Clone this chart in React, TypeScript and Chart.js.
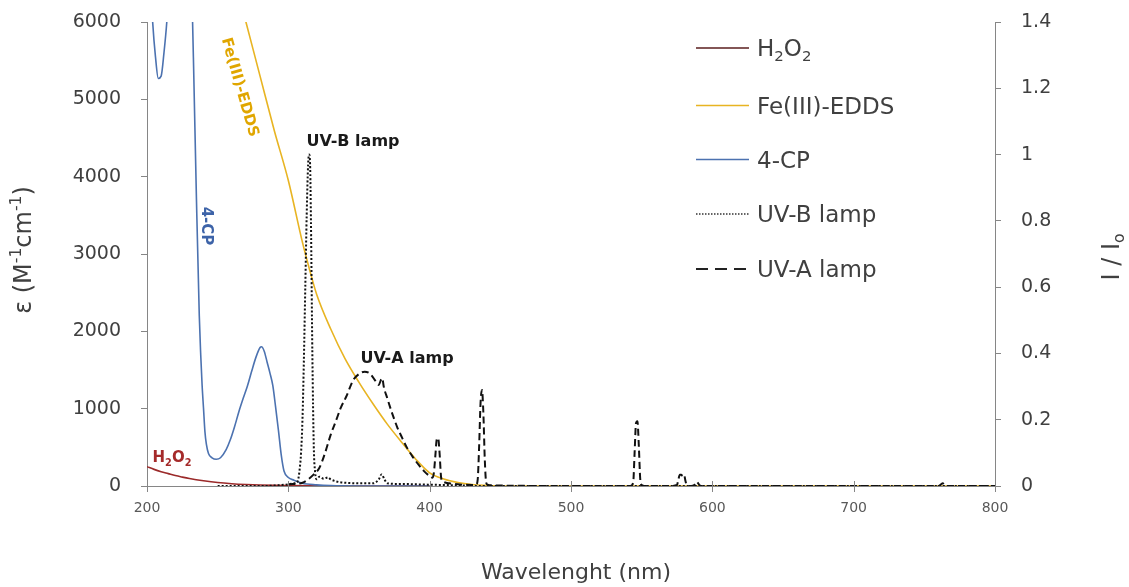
import React, { useEffect, useRef } from 'react';
import { Chart, registerables } from 'chart.js';

Chart.register(...registerables);

const FONT = "'DejaVu Sans', sans-serif";

// ---------- DATA ----------
const xTicks = [200, 300, 400, 500, 600, 700, 800];

const wlH2O2 = [200, 205, 210, 215, 220, 225, 230, 240, 250, 260, 270, 280, 300, 320, 350, 400];
const epsH2O2 = [250, 215, 185, 160, 135, 115, 97, 68, 45, 30, 20, 13, 5, 2, 0, 0];

const wlFe = [260, 270, 280, 290, 300, 310, 315, 320, 330, 340, 350, 360, 370, 380, 390, 400, 410, 420, 430, 440, 450, 500, 600, 700, 800];
const epsFe = [6700, 6000, 5300, 4600, 3950, 3150, 2800, 2480, 2030, 1650, 1340, 1060, 800, 570, 350, 170, 90, 45, 20, 8, 0, 0, 0, 0, 0];

const wl4CP = [200, 202, 204, 206, 208, 210, 212, 214, 216, 220, 225, 230, 232, 233, 235, 237, 238, 239, 240, 241, 242, 243.5, 246, 249, 252, 256, 259, 262, 265, 268, 271, 274, 277, 280, 281, 283, 285, 287, 289, 291, 293, 295, 297, 300, 304, 310, 320, 330, 350, 400];
const eps4CP = [7500, 6700, 6000, 5550, 5270, 5300, 5600, 6000, 6600, 8000, 9000, 7500, 6200, 5400, 3700, 2200, 1700, 1300, 1000, 700, 540, 420, 365, 345, 365, 470, 600, 770, 960, 1130, 1290, 1480, 1660, 1790, 1800, 1740, 1600, 1460, 1300, 1020, 720, 400, 190, 110, 75, 35, 15, 5, 0, 0];

const wlUVB = [250, 280, 300, 304, 306, 307, 308, 309, 310, 311, 312, 313, 314, 314.7, 315.4, 316, 317, 318, 319, 320, 322, 325, 328, 330, 333, 336, 340, 350, 360, 364, 366, 368, 370, 380, 400, 420, 440, 500, 600, 700, 800];
const iUVB = [0, 0, 0.005, 0.008, 0.01, 0.02, 0.05, 0.1, 0.2, 0.38, 0.6, 0.82, 0.97, 1.0, 0.97, 0.8, 0.4, 0.12, 0.04, 0.02, 0.028, 0.022, 0.026, 0.02, 0.015, 0.012, 0.01, 0.008, 0.008, 0.02, 0.035, 0.02, 0.008, 0.006, 0.004, 0.002, 0, 0, 0, 0, 0];

const wlUVA = [300, 310, 314, 318, 322, 326, 330, 334, 337, 341, 346, 350, 354, 358, 362, 364, 365.5, 366.5, 367.5, 370, 373, 377, 380, 384, 388, 392, 396, 400, 402, 403, 404, 405, 406, 407, 408, 409, 410, 414, 420, 430, 433, 434, 435, 436, 437, 438, 439, 440, 441, 445, 500, 542, 544, 545, 546, 547, 548, 549, 550, 552, 570, 575, 576, 577, 578, 579, 580, 581, 582, 585, 587, 588, 589, 590, 591, 592, 595, 700, 760, 763, 765, 770, 800];
const iUVA = [0.005, 0.01, 0.02, 0.035, 0.055, 0.1, 0.155, 0.2, 0.235, 0.27, 0.32, 0.338, 0.345, 0.338, 0.315, 0.305, 0.32, 0.325, 0.3, 0.265, 0.225, 0.178, 0.15, 0.115, 0.088, 0.065, 0.045, 0.03, 0.025, 0.04, 0.09, 0.14, 0.145, 0.1, 0.03, 0.015, 0.012, 0.008, 0.005, 0.003, 0.005, 0.02, 0.12, 0.25, 0.29, 0.22, 0.08, 0.01, 0.004, 0.002, 0, 0, 0.01, 0.1, 0.19, 0.195, 0.12, 0.02, 0.003, 0, 0, 0.003, 0.02, 0.034, 0.034, 0.03, 0.034, 0.015, 0.002, 0, 0.002, 0.008, 0.013, 0.008, 0.002, 0, 0, 0, 0, 0.008, 0, 0, 0];

// ---------- STYLE ----------
const textColor = '#404040';
const axisColor = '#868686';
const cH2O2 = '#9b2a2a';
const cH2O2Legend = '#5a1e1e';
const cFe = '#e8b422';
const cFeText = '#e0a600';
const c4CP = '#4c72b0';
const c4CPText = '#3d63a8';
const cLamp = '#111111';

type Seg = { t: string; s?: 'sub' | 'sup' };

function richWidth(ctx: CanvasRenderingContext2D, segs: Seg[], size: number, weight: string) {
  let w = 0;
  for (const g of segs) {
    const fs = g.s ? size * 0.65 : size;
    ctx.font = `${weight} ${fs}px ${FONT}`;
    w += ctx.measureText(g.t).width;
  }
  return w;
}

function drawRich(
  ctx: CanvasRenderingContext2D,
  segs: Seg[],
  cx: number,
  cy: number,
  size: number,
  weight: string,
  color: string,
  align: 'left' | 'center',
  rot: number
) {
  ctx.save();
  ctx.translate(cx, cy);
  ctx.rotate(rot);
  ctx.fillStyle = color;
  ctx.textBaseline = 'alphabetic';
  ctx.textAlign = 'left';
  const w = richWidth(ctx, segs, size, weight);
  let x = align === 'center' ? -w / 2 : 0;
  const base = size * 0.36;
  for (const g of segs) {
    const fs = g.s ? size * 0.65 : size;
    ctx.font = `${weight} ${fs}px ${FONT}`;
    const dy = g.s === 'sub' ? size * 0.22 : g.s === 'sup' ? -size * 0.4 : 0;
    ctx.fillText(g.t, x, base + dy);
    x += ctx.measureText(g.t).width;
  }
  ctx.restore();
}

const h2o2Segs: Seg[] = [{ t: 'H' }, { t: '2', s: 'sub' }, { t: 'O' }, { t: '2', s: 'sub' }];

const legendItems = [
  { label: h2o2Segs, color: cH2O2Legend, dash: [] as number[], width: 1.5 },
  { label: [{ t: 'Fe(III)-EDDS' }] as Seg[], color: cFe, dash: [] as number[], width: 1.5 },
  { label: [{ t: '4-CP' }] as Seg[], color: c4CP, dash: [] as number[], width: 1.5 },
  { label: [{ t: 'UV-B lamp' }] as Seg[], color: '#333333', dash: [1.5, 1.5], width: 1.5 },
  { label: [{ t: 'UV-A lamp' }] as Seg[], color: '#222222', dash: [12, 7], width: 2 },
];

const overlayPlugin = {
  id: 'overlay',
  afterDraw(chart: any) {
    const ctx: CanvasRenderingContext2D = chart.ctx;
    const area = chart.chartArea;
    const xs = chart.scales.x;

    // crossing tick marks on x axis
    ctx.save();
    ctx.strokeStyle = axisColor;
    ctx.lineWidth = 1;
    for (const t of xs.ticks) {
      const px = Math.round(xs.getPixelForValue(t.value)) + 0.5;
      ctx.beginPath();
      ctx.moveTo(px, area.bottom - 5);
      ctx.lineTo(px, area.bottom + 6);
      ctx.stroke();
    }
    ctx.restore();

    // axis titles
    drawRich(ctx, [{ t: 'Wavelenght (nm)' }], 576, 571, 22, 'normal', textColor, 'center', 0);
    drawRich(
      ctx,
      [{ t: 'ε (M' }, { t: '-1', s: 'sup' }, { t: 'cm' }, { t: '-1', s: 'sup' }, { t: ')' }],
      22,
      250,
      24,
      'normal',
      textColor,
      'center',
      -Math.PI / 2
    );
    drawRich(ctx, [{ t: 'I / I' }, { t: 'o', s: 'sub' }], 1110, 257, 24, 'normal', textColor, 'center', -Math.PI / 2);

    // legend
    const rows = [48, 105.5, 159.5, 214, 269];
    legendItems.forEach((it, i) => {
      const y = rows[i];
      ctx.save();
      ctx.strokeStyle = it.color;
      ctx.lineWidth = it.width;
      ctx.setLineDash(it.dash);
      ctx.beginPath();
      ctx.moveTo(696, y);
      ctx.lineTo(749, y);
      ctx.stroke();
      ctx.restore();
      drawRich(ctx, it.label, 757, y, 23, 'normal', textColor, 'left', 0);
    });

    // annotations
    drawRich(ctx, [{ t: 'UV-B lamp' }], 353, 140, 16, 'bold', '#1a1a1a', 'center', 0);
    drawRich(ctx, [{ t: 'UV-A lamp' }], 407, 357, 16, 'bold', '#1a1a1a', 'center', 0);
    drawRich(ctx, [{ t: 'Fe(III)-EDDS' }], 241, 87, 15, 'bold', cFeText, 'center', (74 * Math.PI) / 180);
    drawRich(ctx, [{ t: '4-CP' }], 207, 226, 15, 'bold', c4CPText, 'center', Math.PI / 2);
    drawRich(ctx, h2o2Segs, 172, 457, 15, 'bold', '#a52a2a', 'center', 0);
  },
};

function pts(xs: number[], ys: number[]) {
  return xs.map((x, i) => ({ x, y: ys[i] }));
}

function noPadV(s: any, w: number) {
  s.width = w;
  s.paddingTop = 0;
  s.paddingBottom = 0;
}

export default function App() {
  const ref = useRef<HTMLCanvasElement | null>(null);

  useEffect(() => {
    if (!ref.current) return;
    const chart = new Chart(ref.current, {
      type: 'line',
      data: {
        datasets: [
          {
            label: 'UV-A lamp',
            data: pts(wlUVA, iUVA),
            yAxisID: 'y1',
            borderColor: cLamp,
            borderWidth: 2,
            borderDash: [7, 4],
            pointRadius: 0,
            cubicInterpolationMode: 'monotone',
            order: 1,
          },
          {
            label: 'UV-B lamp',
            data: pts(wlUVB, iUVB),
            yAxisID: 'y1',
            borderColor: cLamp,
            borderWidth: 2,
            borderDash: [2, 2],
            pointRadius: 0,
            cubicInterpolationMode: 'monotone',
            order: 2,
          },
          {
            label: '4-CP',
            data: pts(wl4CP, eps4CP),
            yAxisID: 'y',
            borderColor: c4CP,
            borderWidth: 1.6,
            pointRadius: 0,
            cubicInterpolationMode: 'monotone',
            order: 3,
          },
          {
            label: 'Fe(III)-EDDS',
            data: pts(wlFe, epsFe),
            yAxisID: 'y',
            borderColor: cFe,
            borderWidth: 1.6,
            pointRadius: 0,
            cubicInterpolationMode: 'monotone',
            order: 4,
          },
          {
            label: 'H2O2',
            data: pts(wlH2O2, epsH2O2),
            yAxisID: 'y',
            borderColor: cH2O2,
            borderWidth: 1.6,
            pointRadius: 0,
            cubicInterpolationMode: 'monotone',
            order: 5,
          },
        ],
      },
      options: {
        animation: false,
        responsive: true,
        maintainAspectRatio: false,
        layout: { padding: { top: 22, left: 0, right: 0, bottom: 0 } },
        plugins: {
          legend: { display: false },
          tooltip: { enabled: false },
        },
        scales: {
          x: {
            type: 'linear',
            min: 200,
            max: 800,
            afterFit: (s: any) => {
              s.height = 101;
              s.paddingLeft = 0;
              s.paddingRight = 0;
            },
            afterBuildTicks: (s: any) => {
              s.ticks = xTicks.map((v) => ({ value: v }));
            },
            grid: { display: false },
            border: { display: true, color: axisColor, width: 1 },
            ticks: {
              autoSkip: false,
              maxRotation: 0,
              padding: 6,
              color: '#595959',
              font: { family: FONT, size: 14 },
            },
          },
          y: {
            type: 'linear',
            position: 'left',
            min: 0,
            max: 6000,
            afterFit: (s: any) => noPadV(s, 147),
            ticks: {
              stepSize: 1000,
              padding: 20,
              color: textColor,
              font: { family: FONT, size: 19 },
              callback: (v: any) => String(v),
            },
            grid: { display: true, drawOnChartArea: false, drawTicks: true, tickLength: 6, color: axisColor },
            border: { display: true, color: axisColor, width: 1 },
          },
          y1: {
            type: 'linear',
            position: 'right',
            min: 0,
            max: 1.4,
            afterFit: (s: any) => noPadV(s, 134),
            ticks: {
              stepSize: 0.2,
              padding: 20,
              color: textColor,
              font: { family: FONT, size: 19 },
              callback: (v: any) => String(Math.round(Number(v) * 10) / 10),
            },
            grid: { display: true, drawOnChartArea: false, drawTicks: true, tickLength: 6, color: axisColor },
            border: { display: true, color: axisColor, width: 1 },
          },
        },
      },
      plugins: [overlayPlugin],
    } as any);
    return () => chart.destroy();
  }, []);

  return (
    <div style={{ position: 'fixed', left: 0, top: 0, width: 1129, height: 587 }}>
      <canvas ref={ref} />
    </div>
  );
}
